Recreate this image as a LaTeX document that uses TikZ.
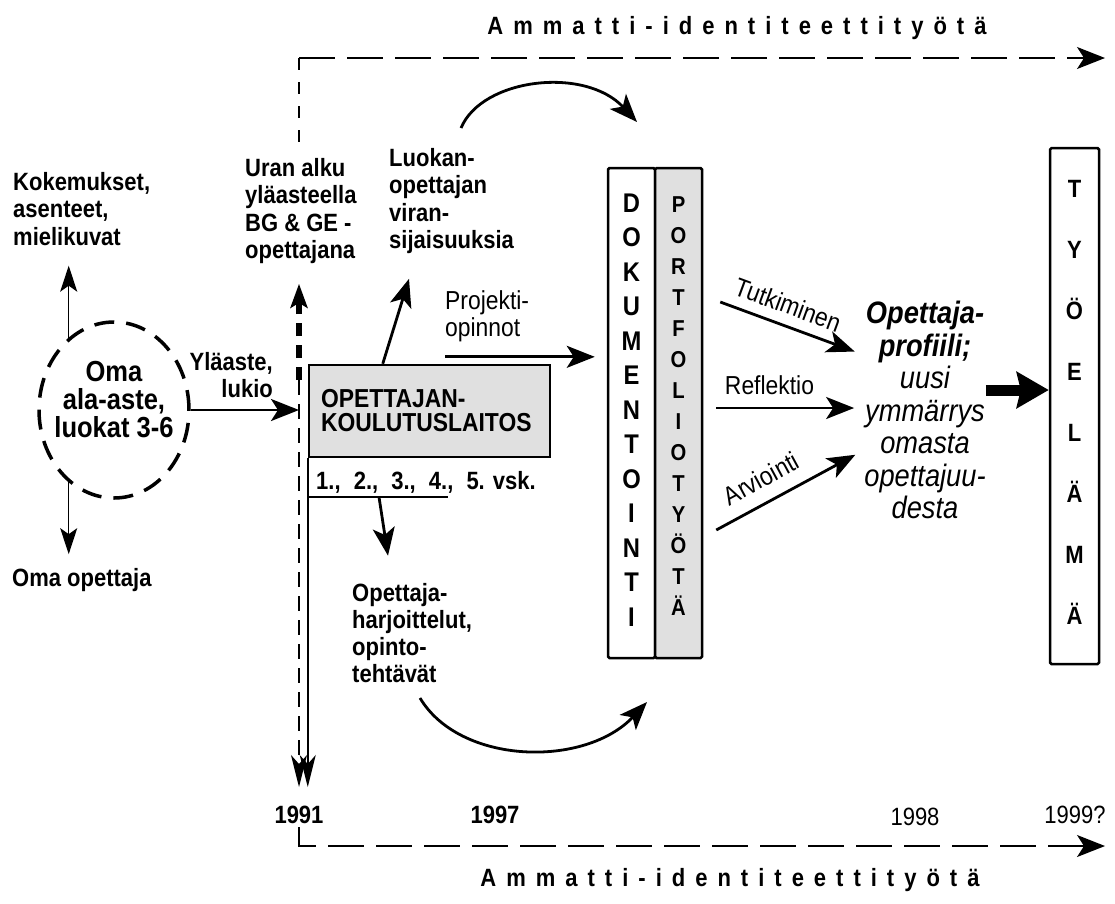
\documentclass[tikz,border=0pt]{standalone}
\usepackage{fontspec}
\setmainfont{Liberation Sans}[FakeStretch=0.88]
\newfontfamily\spaced{Liberation Sans}[FakeStretch=0.88,LetterSpace=40]
\usetikzlibrary{arrows.meta,shapes.geometric,positioning}

\tikzset{
  txt/.style={font=\bfseries\fontsize{25}{27.3}\selectfont, align=left, inner sep=0pt, anchor=west},
  lbl/.style={font=\fontsize{26}{27}\selectfont, inner sep=0pt},
  yr/.style={font=\bfseries\fontsize{25}{27}\selectfont, inner sep=0pt},
  band/.style={font=\spaced\bfseries\fontsize{25}{27}\selectfont, inner sep=0pt},
  col/.style={draw, line width=2.5pt, rounded corners=1.5pt, minimum width=47pt, inner sep=0pt},
  vlet/.style={align=center, inner sep=0pt},
  arr/.style={line width=2.8pt, -{Stealth[length=28pt,width=22pt,inset=7pt]}},
  thinarr/.style={line width=1.2pt, -{Stealth[length=26pt,width=17pt,inset=6pt]}},
  tlarr/.style={-{Stealth[length=32pt,width=16pt,inset=9pt]}},
  dashh/.style={line width=1.5pt, dash pattern=on 36pt off 12pt, -{Stealth[length=28pt,width=22pt,inset=7pt]}},
  dashv/.style={line width=1.5pt, dash pattern=on 12pt off 12pt},
}

\begin{document}
\begin{tikzpicture}[x=1pt, y=-1pt]
\useasboundingbox (0,0) rectangle (1115,903);

% time line
\coordinate (top91) at (299,58);
\coordinate (topend) at (1105,58);
\coordinate (mid91) at (299,380);
\coordinate (end91) at (299,787);
\coordinate (bot91) at (299,846);
\coordinate (botend) at (1105,846);

\node[band] (amtop) at (737,28) {Ammatti-identiteettityötä};
\node[band] (ambot) at (730,880) {Ammatti-identiteettityötä};

% left side
\node[txt] (kok) at (13,209) {Kokemukset,\\asenteet,\\mielikuvat};
\node[ellipse, draw, line width=3.5pt, dash pattern=on 20pt off 12pt,
      minimum width=150pt, minimum height=176pt, inner sep=0pt] (oma) at (114,410) {};
\node[font=\bfseries\fontsize{29}{28}\selectfont, align=center, inner sep=0pt] (omatxt) at (114,400) {Oma\\ala-aste,\\luokat 3-6};
\node[txt] (omaop) at (12,580) {Oma opettaja};
\node[txt, anchor=east, align=right] (ylaaste) at (273,375) {Yläaste,\\lukio};

% middle
\node[txt] (uran) at (245,211) {Uran alku\\yläasteella\\BG \& GE -\\opettajana};
\node[txt] (luokan) at (389,201) {Luokan-\\opettajan\\viran-\\sijaisuuksia};
\node[txt, font=\fontsize{26}{27}\selectfont] (projekti) at (445,316) {Projekti-\\opinnot};
\node[draw, line width=2.5pt, fill=black!12, minimum width=241pt, minimum height=92pt,
      text width=217pt, align=left, inner sep=0pt,
      font=\bfseries\fontsize{26}{24}\selectfont] (opbox) at (429.5,411) {OPETTAJAN-\\KOULUTUSLAITOS};
\node[txt] (vsk) at (316,482) {1.,\hspace{7pt} 2.,\hspace{7pt} 3.,\hspace{7pt} 4.,\hspace{7pt} 5. vsk.};
\node[txt] (opharj) at (352,633) {Opettaja-\\harjoittelut,\\opinto-\\tehtävät};

% columns
\node[col, minimum height=490pt] (dok) at (631.5,413) {};
\node[col, fill=black!12, minimum height=490pt] (port) at (678.5,413) {};
\node[col, minimum width=49pt, minimum height=516pt] (tyo) at (1074.5,406) {};
\node[vlet, font=\bfseries\fontsize{27}{34.5}\selectfont] (doktxt) at (631.5,410) {D\\O\\K\\U\\M\\E\\N\\T\\O\\I\\N\\T\\I};
\node[vlet, font=\bfseries\fontsize{23}{31}\selectfont] (porttxt) at (678.5,406.5) {P\\O\\R\\T\\F\\O\\L\\I\\O\\T\\Y\\Ö\\T\\Ä};
\node[vlet, font=\bfseries\fontsize{25}{61}\selectfont] (tyotxt) at (1074.5,402) {T\\Y\\Ö\\E\\L\\Ä\\M\\Ä};

\node[align=center, inner sep=0pt, font=\itshape\fontsize{31}{32.5}\selectfont] (profiili) at (925,410)
  {\bfseries Opettaja-\\\bfseries profiili;\\uusi\\ymmärrys\\omasta\\opettajuu-\\desta};

% years
\node[yr] (y1991) at (299,815) {1991};
\node[yr] (y1997) at (495,815) {1997};
\node[yr, font=\fontsize{25}{27}\selectfont] (y1998) at (915,817) {1998};
\node[yr, font=\fontsize{25}{27}\selectfont] (y1999) at (1075,815) {1999?};

% connectors
\draw[dashv, shorten >=16pt] (top91) -- (top91 |- uran.north);
\draw[dashh] (top91) -- (topend);
\draw[line width=6pt, dash pattern=on 13pt off 9pt, -{Stealth[length=24pt,width=17pt,inset=5pt]}, shorten >=20pt]
  (mid91) -- (mid91 |- uran.south);
\draw[line width=1.5pt, dash pattern=on 15pt off 9pt, tlarr] (mid91) -- (end91);
\draw[line width=1.5pt, tlarr] (opbox.south west) -- (opbox.south west |- end91);
\draw[dashh] (y1991.south |- 0,827) -- (bot91) -- (botend);

\draw[thinarr, shorten >=20pt] (oma.122) -- (oma.122 |- kok.south);
\draw[thinarr, shorten >=14pt] (oma.238) -- (oma.238 |- omaop.north);
\draw[arr] (oma.east) -- (oma.east -| mid91);

\draw[arr] ([xshift=75pt]opbox.north west) -- ([xshift=20pt,yshift=-25pt]luokan.south west);
\draw[arr, shorten >=12pt] ([yshift=-15pt]projekti.south west) -- ([yshift=-15pt]projekti.south west -| dok.west);
\coordinate (vsk0) at (309,497);
\coordinate (vsk1) at (448,497);
\draw[line width=2.5pt] (vsk0) -- (vsk1);
\draw[arr] ([xshift=70pt]vsk0) -- ([xshift=36pt,yshift=27pt]opharj.north west);

\coordinate (arcA) at (461,128);
\coordinate (arcB) at (637,122);
\draw[arr] (arcA) .. controls (482,78) and (585,66) .. (arcB);
\coordinate (arcC) at (420,698);
\coordinate (arcD) at (647,702);
\draw[arr] (arcC) .. controls (460,765) and (585,768) .. (arcD);

\draw[arr, shorten >=10pt] ([xshift=17pt,yshift=111pt]port.east)
  -- node[lbl, sloped, above=10pt, pos=0.42] (tutk) {Tutkiminen} ([yshift=55pt]profiili.west);
\draw[arr, shorten >=10pt] ([xshift=13pt,yshift=5pt]port.east)
  -- node[lbl, above=12pt, pos=0.36] (refl) {Reflektio} ([yshift=2pt]profiili.west);
\draw[arr, shorten >=10pt] ([xshift=13pt,yshift=-117pt]port.east)
  -- node[lbl, sloped, above=13pt, pos=0.38] (arvi) {Arviointi} ([yshift=-40pt]profiili.west);
\draw[line width=11pt, -{Stealth[length=32pt,width=36pt,inset=4pt]}]
  ([yshift=20pt]profiili.east) -- ([yshift=20pt]profiili.east -| tyo.west);

\end{tikzpicture}
\end{document}
